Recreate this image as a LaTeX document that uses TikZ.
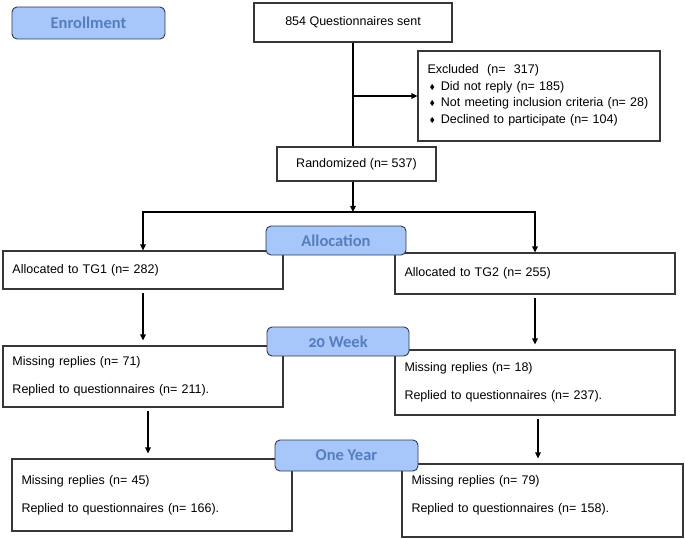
\documentclass[tikz,border=0pt]{standalone}
\usepackage{amssymb}
\usepackage{fontspec}
\setmainfont{Liberation Sans}
\newfontfamily\headfont{Carlito}[Numbers=OldStyle]
\usetikzlibrary{arrows.meta}

\definecolor{stagefill}{RGB}{167,199,250}
\definecolor{stagetext}{RGB}{86,126,190}
\definecolor{stageline}{RGB}{45,55,80}
\definecolor{boxline}{RGB}{55,55,55}

% bullet for the excluded list
\newcommand{\exitem}{\hspace*{2pt}\raisebox{1pt}{\scriptsize$\blacklozenge$}\hspace{6pt}}

\tikzset{
  stage/.style={draw=stageline, fill=stagefill, rounded corners=5pt, line width=0.9pt,
    text=stagetext, font=\headfont\bfseries\fontsize{16.5}{18}\selectfont, inner sep=0pt},
  infobox/.style={draw=boxline, line width=1.1pt, font=\fontsize{12.5}{16.5}\selectfont,
    inner sep=0pt},
  listbox/.style 2 args={infobox, align=left, inner xsep=9.5pt, text width=#1-19pt,
    minimum height=#2},
  arr/.style={-{Triangle[length=6pt,width=5.5pt]}, line width=1.2pt},
  gap/.style={shorten <=3pt, shorten >=5pt},
}

\begin{document}
\begin{tikzpicture}[x=1pt, y=-1pt]
\useasboundingbox (0,0) rectangle (685,540);

% enrollment
\node[infobox, minimum width=198pt, minimum height=39pt] (sent) at (353,22.5) {854 Questionnaires sent};
\node[listbox={242pt}{90pt}] (excl) at (539,96)
  {Excluded\ \ (n=\ \ 317)\\
   \exitem Did not reply (n= 185)\\
   \exitem Not meeting inclusion criteria (n= 28)\\
   \exitem Declined to participate (n= 104)\\[-12pt]\mbox{}};
\node[infobox, minimum width=159pt, minimum height=34pt] (rand) at (356.5,164) {Randomized (n= 537)};
\coordinate (fork) at (353,212);

% allocation
\node[listbox={280pt}{38pt}] (tg1) at (143,270) {Allocated to TG1 (n= 282)};
\node[listbox={280pt}{41pt}] (tg2) at (535,273.5) {Allocated to TG2 (n= 255)};

% 20 week
\node[listbox={280pt}{61pt}] (wkl) at (143,376.5) {Missing replies (n= 71)\\[11.5pt]Replied to questionnaires (n= 211).};
\node[listbox={280pt}{65pt}] (wkr) at (535,382.5) {Missing replies (n= 18)\\[11.5pt]Replied to questionnaires (n= 237).};

% one year
\node[listbox={280pt}{72pt}] (yrl) at (152,495) {Missing replies (n= 45)\\[11.5pt]Replied to questionnaires (n= 166).};
\node[listbox={281pt}{73pt}] (yrr) at (542.5,500.5) {Missing replies (n= 79)\\[11.5pt]Replied to questionnaires (n= 158).\\[-2.5pt]\mbox{}};

% connectors
\draw[line width=1.2pt] (sent.south) -- (sent.south |- rand.north);
\draw[arr] (sent.south |- excl.west) -- (excl.west);
\draw[arr] (fork |- rand.south) -- (fork);
\draw[arr] (fork) -| (tg1.north);
\draw[arr] (fork) -| (tg2.north);
\draw[arr, gap] (tg1.south) -- (wkl.north);
\draw[arr, gap] (tg2.south) -- (wkr.north);
\draw[arr, gap] ([xshift=5pt]wkl.south) -- ([xshift=5pt]wkl.south |- yrl.north);
\draw[arr, gap] ([xshift=3pt]wkr.south) -- ([xshift=3pt]wkr.south |- yrr.north);

% stage labels
\node[stage, minimum width=153pt, minimum height=32pt] (enroll) at (88.5,23) {Enrollment};
\node[stage, minimum width=140pt, minimum height=29pt] (alloc) at (336,240.5) {Allocation};
\node[stage, minimum width=142pt, minimum height=29pt] (week) at (338,341.5) {20 Week};
\node[stage, minimum width=143pt, minimum height=31pt] (year) at (346.5,455.5) {One Year};
\end{tikzpicture}
\end{document}
